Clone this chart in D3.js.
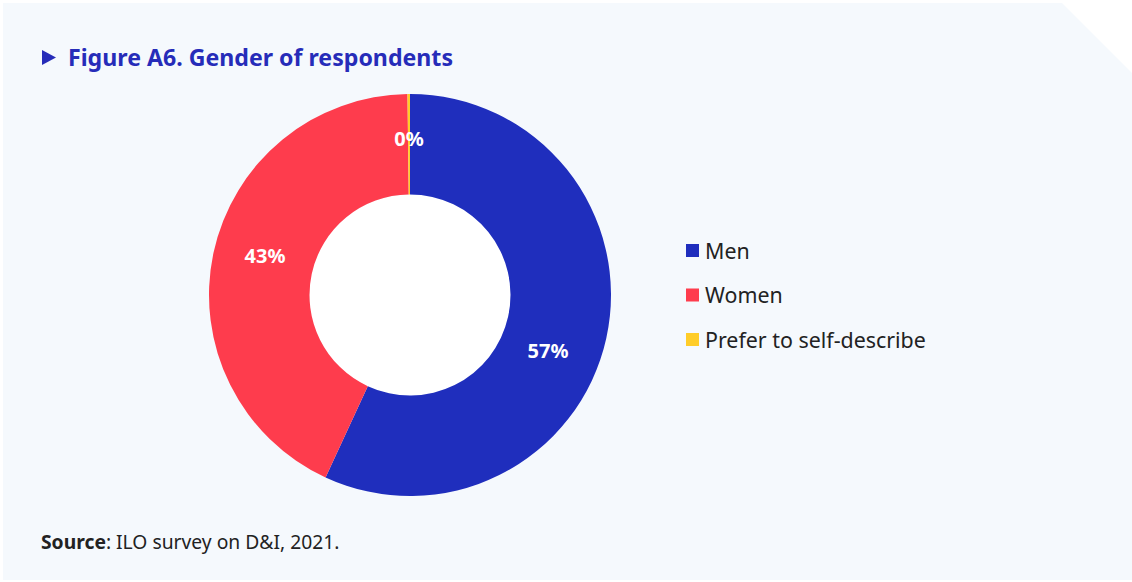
<!DOCTYPE html>
<html><head><meta charset="utf-8">
<script src="https://cdn.jsdelivr.net/npm/d3@7"></script>
<style>
html,body{margin:0;padding:0;background:#fff;}
svg{display:block;font-family:"Noto Sans",sans-serif;}
</style></head>
<body>
<svg id="c" width="1132" height="582"></svg>
<script>
const categories = ["Men", "Women", "Prefer to self-describe"];
const values = [56.9, 42.9, 0.2];
const labels = ["57%", "43%", "0%"];
const colors = ["#1f2ebd", "#fe3c4d", "#ffcd29"];
const title = "Figure A6. Gender of respondents";

const svg = d3.select("#c");
// panel with cut corner
svg.append("path")
  .attr("d", "M3,3 L1062,3 L1132,73 L1132,580 L3,580 Z")
  .attr("fill", "#f5f9fd");

// title
svg.append("path").attr("d", "M42,50 L56,57.5 L42,65 Z").attr("fill", "#262cb9");
svg.append("text").attr("x", 68).attr("y", 66)
  .attr("font-size", 23).attr("font-weight", 700).attr("fill", "#262cb9")
  .attr("textLength", 385).attr("lengthAdjust", "spacingAndGlyphs")
  .text(title);

// donut
const cx = 410, cy = 295, R = 201, r = 100.5;
const g = svg.append("g").attr("transform", `translate(${cx},${cy})`);
g.append("circle").attr("r", r).attr("fill", "#ffffff");
const pie = d3.pie().sort(null).value(d => d.v);
const data = categories.map((c, i) => ({c, v: values[i], l: labels[i], col: colors[i]}));
const arcs = pie(data);
const arc = d3.arc().innerRadius(r).outerRadius(R);
g.selectAll("path.s").data(arcs).join("path").attr("class", "s")
  .attr("d", arc).attr("fill", d => d.data.col);

const labelShift = [0.17, 0.05, 0]; // radians, mimic original label placement
const labelR = [149, 150, 156];
g.selectAll("text.l").data(arcs).join("text").attr("class", "l")
  .attr("transform", (d, i) => {
    const a = (d.startAngle + d.endAngle) / 2 + labelShift[i];
    return `translate(${labelR[i] * Math.sin(a)},${-labelR[i] * Math.cos(a)})`;
  })
  .attr("text-anchor", "middle").attr("dy", "0.35em")
  .attr("font-size", 20).attr("font-weight", 700).attr("fill", "#fff")
  .text(d => d.data.l);

// legend
const lg = svg.append("g").attr("transform", "translate(686,250)");
const items = lg.selectAll("g").data(data).join("g")
  .attr("transform", (d, i) => `translate(0,${i * 44.5})`);
items.append("rect").attr("x", 0).attr("y", -6).attr("width", 13).attr("height", 13)
  .attr("fill", d => d.col);
items.append("text").attr("x", 19).attr("y", 1).attr("dy", "0.35em")
  .attr("font-size", 21.4).attr("fill", "#222")
  .text(d => d.c);

// source
const src = svg.append("text").attr("x", 41).attr("y", 549)
  .attr("font-size", 19.3).attr("fill", "#222");
src.append("tspan").attr("font-weight", 700).text("Source");
src.append("tspan").text(": ILO survey on D&I, 2021.");
</script>
</body></html>
